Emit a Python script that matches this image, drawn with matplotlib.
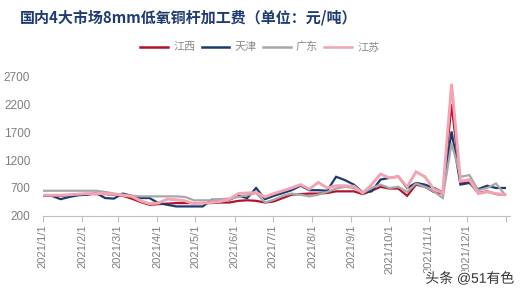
import numpy as np
import pandas as pd
import matplotlib
matplotlib.use("Agg")
import matplotlib.pyplot as plt
import matplotlib.dates as mdates
import matplotlib.patheffects as pe

plt.rcParams['font.family'] = ['Liberation Sans', 'Noto Sans CJK SC']

# weekly observations, 2021
dates = pd.date_range("2021-01-01", periods=53, freq="7D")

jiangxi = [560, 560, 560, 570, 580, 590, 590, 590, 580, 560,
           510, 450, 400, 410, 420, 430, 430, 430, 430, 430,
           440, 440, 470, 480, 470, 440, 460, 520, 580, 590,
           600, 600, 610, 640, 640, 640, 590, 650, 720, 690,
           690, 560, 760, 720, 630, 600, 2200, 780, 800, 610,
           640, 590, 580]

tianjin = [560, 560, 500, 540, 570, 580, 610, 520, 510, 600,
           560, 520, 520, 430, 400, 370, 370, 370, 370, 490,
           490, 490, 560, 520, 700, 500, 560, 610, 660, 740,
           660, 660, 650, 900, 840, 760, 620, 640, 850, 880,
           905, 700, 790, 760, 700, 620, 1710, 760, 790, 680,
           740, 700, 700]

guangdong = [650, 650, 650, 650, 650, 650, 650, 630, 600, 580,
             560, 550, 550, 550, 550, 550, 540, 480, 480, 480,
             500, 510, 540, 570, 610, 440, 490, 560, 600, 580,
             550, 580, 630, 690, 720, 700, 610, 700, 760, 700,
             720, 630, 780, 720, 640, 520, 1500, 900, 930, 660,
             700, 780, 580]

jiangsu = [570, 570, 570, 580, 590, 600, 600, 600, 590, 570,
           550, 470, 420, 430, 500, 490, 470, 420, 430, 440,
           460, 500, 600, 610, 620, 540, 600, 650, 700, 760,
           680, 800, 700, 740, 740, 730, 610, 760, 950, 880,
           905, 720, 990, 900, 680, 610, 2560, 820, 850, 600,
           630, 600, 580]

series = [("江西", jiangxi, "#B3122B", 1.6),
          ("天津", tianjin, "#1C3A70", 1.6),
          ("广东", guangdong, "#A8A8A8", 1.6),
          ("江苏", jiangsu, "#F3A3B1", 2.1)]

yticks = [200, 700, 1200, 1700, 2200, 2700]

fig = plt.figure(figsize=(5.22, 2.95), dpi=100)
ax = fig.add_axes([0.082, 0.268, 0.895, 0.474])

for name, vals, col, lw in series:
    ax.plot(dates, vals, color=col, lw=lw, label=name, solid_joinstyle='miter')

ax.set_ylim(200, 2700)
ax.set_yticks(yticks)
ax.set_xlim(pd.Timestamp("2021-01-01"), pd.Timestamp("2022-01-04"))

ticks = pd.date_range("2021-01-01", "2022-01-01", freq="MS")
ax.set_xticks(ticks)
ax.set_xticklabels([f"{d.year}/{d.month}/{d.day}" for d in ticks[:-1]] + [""],
                   rotation=90, fontsize=8, color="#7F7F7F")
ax.tick_params(axis='x', length=4, color="#BFBFBF", width=0.8, pad=2)
ax.tick_params(axis='y', length=0, labelsize=8.5, labelcolor="#7F7F7F", pad=9)

for s in ['top', 'right', 'left']:
    ax.spines[s].set_visible(False)
ax.spines['bottom'].set_color("#BFBFBF")
ax.spines['bottom'].set_linewidth(0.8)

fig.text(0.038, 0.94, "国内4大市场8mm低氧铜杆加工费（单位：元/吨）",
         fontsize=10.8, fontweight='bold', color="#1F3B73",
         family=['Noto Sans CJK SC'], va='center', ha='left')

leg = fig.legend(loc='center', bbox_to_anchor=(0.498, 0.84), ncol=4, frameon=False,
                 fontsize=8, handlelength=2.5, handletextpad=0.5, columnspacing=0.5)
for t in leg.get_texts():
    t.set_color("#8C8C8C")
for h in leg.get_lines():
    h.set_linewidth(1.8)

fig.text(0.985, 0.055, "头条 @51有色", fontsize=10, color="#333333",
         ha='right', va='center',
         path_effects=[pe.withStroke(linewidth=2.5, foreground='white')])

fig.savefig("out.png", dpi=100)
